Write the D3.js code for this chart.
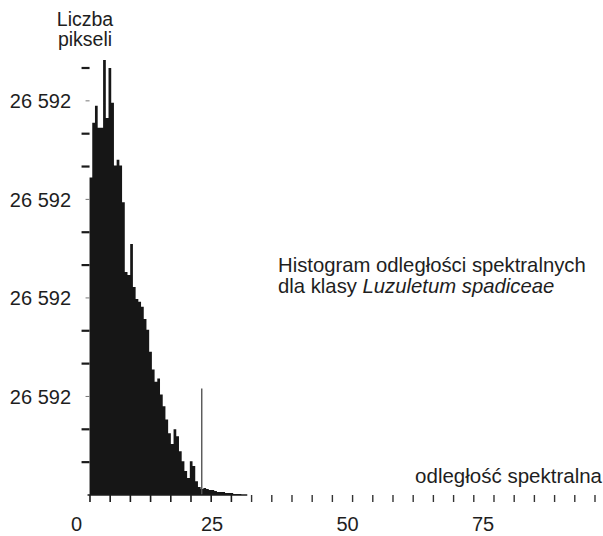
<!DOCTYPE html>
<html>
<head>
<meta charset="utf-8">
<script src="https://cdn.jsdelivr.net/npm/d3@7/dist/d3.min.js"></script>
<style>
  html, body { margin: 0; padding: 0; background: #fff; }
  svg { display: block; }
  text { font-family: "Liberation Sans", Arial, sans-serif; fill: #1e1e1e; }
</style>
</head>
<body>
<svg id="chart" width="603" height="536"></svg>
<script>
// Histogram of spectral distances (bin width 0.5, first bin starts at 2.5)
const binStart = 2.5;
const binWidth = 0.5;
const counts = [
  9.67, 11.33, 11.85, 11.18, 11.18, 13.24, 11.48, 13.0, 11.94, 10.03,
  10.21, 10.03, 8.91, 6.79, 6.70, 7.64, 6.33, 5.97, 5.88, 5.73,
  5.36, 5.03, 4.36, 3.82, 3.45, 3.55, 3.06, 2.70, 2.30, 1.88,
  1.55, 2.0, 1.79, 1.33, 1.03, 0.73, 0.52, 1.03, 0.88, 0.42,
  0.24, 0.18, 0.21, 0.18, 0.15, 0.15, 0.12, 0.09, 0.09, 0.09,
  0.06, 0.06, 0.06, 0.03, 0.03, 0.03
];
// single marker line inside the histogram
const markerValue = 23.2;
const markerHeight = 3.24;

// axis labels
const xTickLabels = [0, 25, 50, 75];
const yTickLabels = ["26 592", "26 592", "26 592", "26 592"];
const yLabeledTicks = [3, 6, 9, 12];
const yMax = 13;

const svg = d3.select("#chart");

const x = d3.scaleLinear().domain([0, 95]).range([76, 76 + 95 * 5.42]);
const y = d3.scaleLinear().domain([0, yMax]).range([495, 68]);

// minor tick marks along the distance axis
const xMinorStep = 3.727;
const xMinorTicks = d3.range(26).map(k => 2.58 + k * xMinorStep);

// histogram drawn as one stepped area so neighbouring bins join seamlessly
const bins = counts.map((c, i) => ({ x0: binStart + i * binWidth, c }));
bins.push({ x0: binStart + counts.length * binWidth, c: 0 });
const area = d3.area()
  .x(d => x(d.x0))
  .y0(y(0))
  .y1(d => y(d.c))
  .curve(d3.curveStepAfter);
svg.append("path")
  .datum(bins)
  .attr("d", area)
  .attr("fill", "#161616");

// marker line
svg.append("line")
  .attr("x1", x(markerValue)).attr("x2", x(markerValue))
  .attr("y1", y(0)).attr("y2", y(markerHeight))
  .attr("stroke", "#555")
  .attr("stroke-width", 1.4);

// y axis ticks and labels
const yAxisG = svg.append("g");
const yTicks = d3.range(1, yMax + 1);
yAxisG.selectAll("line.tick")
  .data(yTicks)
  .join("line")
  .attr("class", "tick")
  .attr("x1", d => yLabeledTicks.includes(d) ? x(binStart) - 4 : x(binStart) - 8)
  .attr("x2", x(binStart))
  .attr("y1", d => y(d)).attr("y2", d => y(d))
  .attr("stroke", d => yLabeledTicks.includes(d) ? "#777" : "#1b1b1b")
  .attr("stroke-width", d => yLabeledTicks.includes(d) ? 1 : 2.2);
yAxisG.selectAll("text")
  .data(yLabeledTicks)
  .join("text")
  .attr("x", 71)
  .attr("y", d => y(d))
  .attr("dy", "0.36em")
  .attr("text-anchor", "end")
  .attr("font-size", 20)
  .text((d, i) => yTickLabels[i]);

// x axis baseline and minor ticks
svg.append("line")
  .attr("x1", x(binStart) - 2).attr("x2", x(31.6))
  .attr("y1", y(0)).attr("y2", y(0))
  .attr("stroke", "#1b1b1b").attr("stroke-width", 1.3);
svg.append("g")
  .selectAll("line")
  .data(xMinorTicks)
  .join("line")
  .attr("x1", d => x(d)).attr("x2", d => x(d))
  .attr("y1", y(0)).attr("y2", y(0) + 7)
  .attr("stroke", (d, i) => i < 8 ? "#1b1b1b" : "#333")
  .attr("stroke-width", (d, i) => i < 8 ? 1.6 : 1.4);

// x tick labels
const xAxis = d3.axisBottom(x).tickValues(xTickLabels).tickSize(0).tickPadding(22);
const xAxisG = svg.append("g").attr("transform", `translate(0,${y(0)})`).call(xAxis);
xAxisG.select(".domain").remove();
xAxisG.selectAll("text").attr("font-size", 20).attr("font-family", null).attr("fill", "#1e1e1e");

// axis titles
svg.append("text").attr("x", 85).attr("y", 26).attr("text-anchor", "middle").attr("font-size", 19.5).text("Liczba");
svg.append("text").attr("x", 85).attr("y", 46).attr("text-anchor", "middle").attr("font-size", 19.5).text("pikseli");
svg.append("text").attr("x", 602).attr("y", 483).attr("text-anchor", "end").attr("font-size", 20.5).text("odległość spektralna");

// description
const desc = svg.append("text").attr("x", 278).attr("font-size", 20.3);
desc.append("tspan").attr("x", 278).attr("y", 272).text("Histogram odległości spektralnych");
const line2 = desc.append("tspan").attr("x", 278).attr("y", 293);
line2.text("dla klasy ");
desc.append("tspan").attr("font-style", "italic").text("Luzuletum spadiceae");
</script>
</body>
</html>
